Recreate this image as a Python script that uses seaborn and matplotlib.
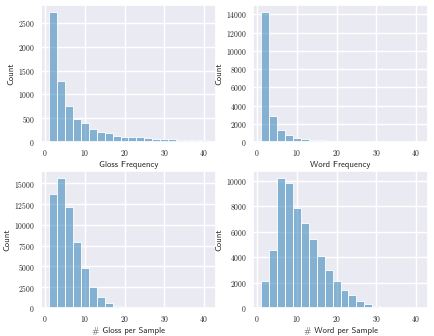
import numpy as np
import pandas as pd
import matplotlib
matplotlib.use("Agg")
import matplotlib.pyplot as plt
import seaborn as sns

# bin edges shared by all four histograms (width 2, from 1 to 41)
bin_edges = list(range(1, 43, 2))
bin_centers = [e + 1 for e in bin_edges[:-1]]

gloss_freq = [2740, 1290, 760, 480, 400, 280, 220, 180, 125, 115,
              95, 95, 80, 60, 55, 65, 45, 40, 45, 45]
word_freq = [14300, 2900, 1350, 750, 480, 380, 250, 180, 130, 100,
             90, 80, 50, 40, 50, 30, 25, 20, 20, 15]
gloss_per_sample = [13700, 15700, 12200, 7900, 4800, 2550, 1300, 650, 280, 100,
                    40, 15, 5, 2, 0, 0, 0, 0, 0, 0]
word_per_sample = [2150, 4550, 10250, 9800, 7850, 6700, 5450, 4100, 3000, 2150,
                   1400, 1000, 550, 330, 170, 80, 30, 10, 5, 2]

panels = [
    ("Gloss Frequency", gloss_freq, [0, 500, 1000, 1500, 2000, 2500]),
    ("Word Frequency", word_freq, [0, 2000, 4000, 6000, 8000, 10000, 12000, 14000]),
    ("# Gloss per Sample", gloss_per_sample, [0, 2500, 5000, 7500, 10000, 12500, 15000]),
    ("# Word per Sample", word_per_sample, [0, 2000, 4000, 6000, 8000, 10000]),
]

sns.set_theme(style="darkgrid")
plt.rcParams["axes.formatter.use_mathtext"] = True
plt.rcParams["mathtext.fontset"] = "cm"

fig = plt.figure(figsize=(4.34, 3.36), dpi=100)
# axes rectangles in figure fractions (left, bottom, width, height)
rects = [
    (41 / 434, 1 - 142 / 336, 175 / 434, 137 / 336),
    (253 / 434, 1 - 142 / 336, 175 / 434, 137 / 336),
    (41 / 434, 1 - 308 / 336, 175 / 434, 137 / 336),
    (253 / 434, 1 - 308 / 336, 175 / 434, 137 / 336),
]

for rect, (label, counts, yticks) in zip(rects, panels):
    ax = fig.add_axes(rect)
    df = pd.DataFrame({"x": bin_centers, "w": counts})
    sns.histplot(data=df, x="x", weights="w", bins=bin_edges, ax=ax,
                 color="#1f77b4", alpha=0.5, edgecolor="white", linewidth=0.6)
    ax.set_xticks([0, 10, 20, 30, 40])
    ax.set_yticks(yticks)
    for t in ax.get_xticklabels() + ax.get_yticklabels():
        t.set_fontfamily("cmr10")
        t.set_fontsize(5.5)
    ax.tick_params(length=0, pad=4.5)
    ax.set_xlabel(label, fontfamily="cmss10", fontsize=6.3, labelpad=2)
    ax.set_ylabel("Count", fontfamily="cmss10", fontsize=6.3, labelpad=2)
    ax.grid(linewidth=1.0)

fig.savefig("out.png", dpi=100)
